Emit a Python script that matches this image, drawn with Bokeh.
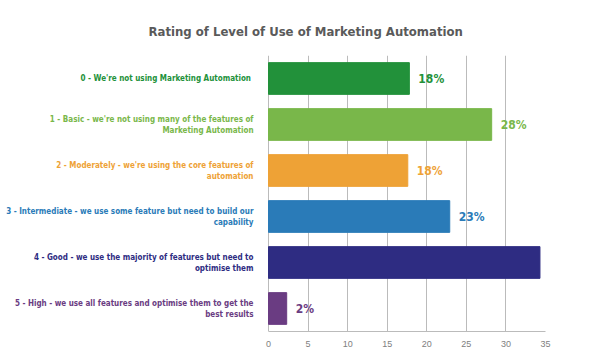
from bokeh.plotting import figure
from bokeh.models import ColumnDataSource, LabelSet, FixedTicker, Range1d, Title
from bokeh.core.properties import value
from bokeh.embed import file_html
from bokeh.resources import INLINE

categories = [
    "0  - We're not using Marketing Automation",
    "1 - Basic - we're not using many of the features of\nMarketing Automation",
    "2 - Moderately - we're using the core features of\nautomation",
    "3 - Intermediate - we use some feature but need to build our\ncapability",
    "4 - Good - we use the majority of features but need to\noptimise them",
    "5 - High - we use all features and optimise them to get the\nbest results",
]
values = [17.8, 28.2, 17.6, 22.9, 34.3, 2.3]
pct_labels = ["18%", "28%", "18%", "23%", "34%", "2%"]
colors = ["#22913a", "#79b74a", "#eea236", "#2a7bb8", "#2e2c82", "#6a3c82"]
x_ticks = [0, 5, 10, 15, 20, 25, 30, 35]

FONT = "DejaVu Sans Condensed"

n = len(categories)
ypos = [n - i - 0.5 for i in range(n)]
line1 = [c.split("\n")[0] for c in categories]
line2 = [c.split("\n")[1] if "\n" in c else "" for c in categories]
off1 = [5.5 if l2 else 0 for l2 in line2]
off2 = [-5.5 for _ in line2]

src = ColumnDataSource(dict(y=ypos, v=values, l1=line1, l2=line2, o1=off1, o2=off2,
                            pct=pct_labels, color=colors, zero=[0] * n))

W, H = 604, 356
left_px, right_px = 268, 545
ppu = (right_px - left_px) / 35.0
x_start = -left_px / ppu

p = figure(width=W, height=H, output_backend="svg", toolbar_location=None,
           x_range=Range1d(x_start, 35), y_range=Range1d(0, n),
           min_border_left=0, min_border_right=W - right_px, min_border_top=55,
           min_border_bottom=25)
p.outline_line_color = None
p.background_fill_color = "white"

title = Title(text="Rating of Level of Use of Marketing Automation", align="left",
              offset=148, text_color="#5a5a5a", text_font=FONT,
              text_font_style="bold", text_font_size="13px", standoff=30,
              vertical_align="top")
p.add_layout(title, "above")

p.hbar(y="y", right="v", left=0, height=0.69, color="color", source=src)

p.xaxis.ticker = FixedTicker(ticks=x_ticks)
p.xaxis.bounds = (0, 35)
p.xaxis.axis_line_color = "#bbbbbb"
p.xaxis.major_tick_line_color = None
p.xaxis.minor_tick_line_color = None
p.xaxis.major_label_text_color = "#808080"
p.xaxis.major_label_text_font_size = "9px"
p.xaxis.major_label_standoff = 3

p.yaxis.visible = False
p.xgrid.ticker = FixedTicker(ticks=x_ticks)
p.xgrid.grid_line_color = "#bbbbbb"
p.ygrid.grid_line_color = None

common = dict(source=src, x_offset=-15, text_align="right", text_baseline="middle",
              text_color="color", text_font=value(FONT), text_font_style="bold",
              text_font_size="8px")
p.add_layout(LabelSet(x="zero", y="y", text="l1", y_offset="o1", **common))
p.add_layout(LabelSet(x="zero", y="y", text="l2", y_offset="o2", **common))
p.add_layout(LabelSet(x="v", y="y", text="pct", source=src, x_offset=9,
                      text_align="left", text_baseline="middle",
                      text_color="color", text_font=value(FONT), text_font_style="bold",
                      text_font_size="12px"))

open("out.html", "w").write(file_html(p, INLINE))
